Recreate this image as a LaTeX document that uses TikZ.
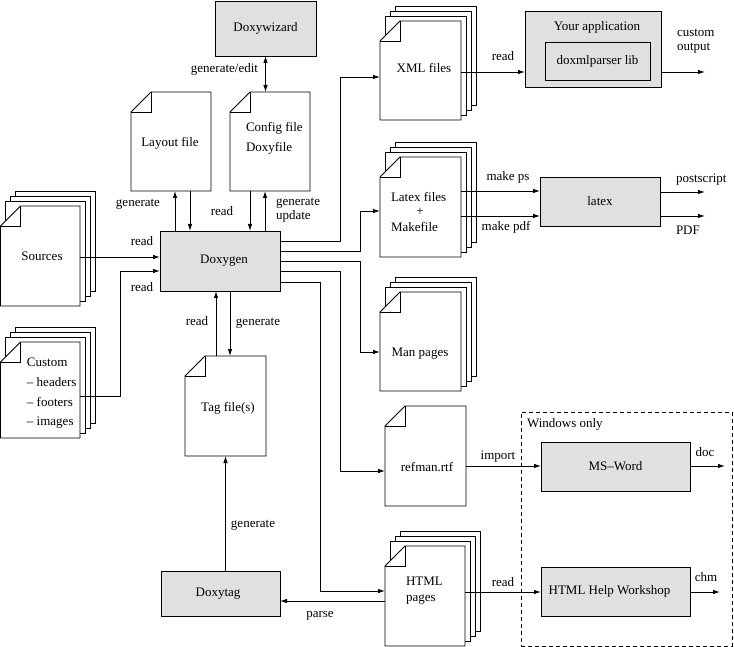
\documentclass[tikz,border=0pt]{standalone}
\usepackage{fontspec}
\setmainfont{Liberation Serif}
\usetikzlibrary{arrows.meta,fit}
\definecolor{boxgray}{RGB}{224,224,224}
\tikzset{
  every node/.style={font=\fontsize{13}{15}\selectfont, inner sep=0pt, outer sep=0pt},
  graybox/.style={draw, fill=boxgray},
  pageline/.style={draw, fill=white},
  pagearea/.style={draw=none, inner sep=0pt, outer sep=0pt},
  lbl/.style={anchor=base},
  lblw/.style={anchor=base west},
  winbox/.style={draw, dash pattern=on 4pt off 3pt},
  arr/.style={-{Latex[length=7pt,width=4.5pt]}},
  arrtwo/.style={{Latex[length=7pt,width=4.5pt]}-{Latex[length=7pt,width=4.5pt]}},
}
% name, x0, y0, x1, y1 : a page with a folded top-left corner
\newcommand\docpage[5]{%
  \draw[pageline] (#2+20,#3) -- (#4,#3) -- (#4,#5) -- (#2,#5) -- (#2,#3+20) -- cycle;
  \draw (#2,#3+20) -- (#2+20,#3+20) -- (#2+20,#3);
  \coordinate (#1-nw) at (#2,#3);
  \coordinate (#1-se) at (#4,#5);
  \node[pagearea, fit=(#1-nw)(#1-se)] (#1) {};
}
\newcommand\docstack[5]{%
  \foreach \d in {15,10,5}{\draw[pageline] (#2+\d,#3-\d) rectangle (#4+\d,#5-\d);}
  \docpage{#1}{#2}{#3}{#4}{#5}%
}
\begin{document}
\begin{tikzpicture}[x=1pt,y=-1pt,line width=0.9pt]
\useasboundingbox (0,0) rectangle (734,647);

% ---- grey boxes
\node[graybox, minimum width=101pt, minimum height=55pt] (doxywizard) at (265.5,28.5) {Doxywizard};
\node[graybox, minimum width=120pt, minimum height=60pt] (doxygen) at (220,261) {\hspace*{8pt}Doxygen};
\node[graybox, minimum width=119pt, minimum height=45pt] (doxytag) at (220.5,593.5) {Doxytag\hspace*{5pt}};
\node[graybox, minimum width=136pt, minimum height=76pt] (yourapp) at (593,49) {};
\node[graybox, minimum width=105pt, minimum height=38pt] (parser) at (597.5,61) {doxmlparser lib};
\node[lbl] (yourappT) at (597,31) {Your application};
\node[graybox, minimum width=120pt, minimum height=49pt] (latex) at (600,201.5) {latex};
\node[winbox, minimum width=211pt, minimum height=234pt] (win) at (626.5,529) {};
\node[lblw] (winT) at (527,427) {Windows only};
\node[graybox, minimum width=149pt, minimum height=49pt] (msword) at (615.5,466.5) {MS--Word};
\node[graybox, minimum width=149pt, minimum height=49pt] (hhw) at (615.5,591.5) {HTML Help Workshop\hspace*{12pt}};

% ---- pages
\docpage{layout}{131}{92}{211}{191}
\node[lbl] (layoutT) at (170,146.5) {Layout file};
\docpage{config}{230}{92}{310}{191}
\node[lblw] (configT1) at (246,131.5) {Config file};
\node[lblw] (configT2) at (246,151.5) {Doxyfile};
\docstack{sources}{0.5}{206}{80}{306}
\node[lbl] (sourcesT) at (42,261) {Sources};
\docstack{custom}{0.5}{342}{80}{438}
\node[lblw] (customT1) at (27,366) {Custom};
\node[lblw] (customT2) at (27,386) {-- headers};
\node[lblw] (customT3) at (27,406) {-- footers};
\node[lblw] (customT4) at (27,425.5) {-- images};
\docpage{tag}{185}{356}{266}{456}
\node[lbl] (tagT) at (228,411) {Tag file(s)};
\docstack{xml}{380}{21}{461}{120}
\node[lbl] (xmlT) at (424,72.5) {XML files};
\docstack{latexf}{380}{157}{461}{257}
\node[lblw] (latexfT1) at (391,201.5) {Latex files};
\node[lbl] (latexfT2) at (420,216) {+};
\node[lblw] (latexfT3) at (391,231.5) {Makefile};
\docstack{man}{380}{292}{461}{391}
\node[lbl] (manT) at (420,356) {Man pages};
\docpage{refman}{385}{406}{466}{506}
\node[lbl] (refmanT) at (427,471) {refman.rtf};
\docstack{html}{385}{546}{465}{646}
\node[lblw] (htmlT1) at (406,585.5) {HTML};
\node[lblw] (htmlT2) at (406,601.5) {pages};

% ---- free ends
\coordinate (o1) at (705,72);
\coordinate (o2) at (705,192);
\coordinate (o3) at (705,216);
\coordinate (o4) at (725,466);
\coordinate (o5) at (720,592);

% ---- connectors
\draw[arrtwo] (doxywizard.south) -- (doxywizard.south |- config.north);
\draw[arr] ([xshift=-45pt]doxygen.north) coordinate (a1) -- (a1 |- layout.south);
\draw[arr] ([xshift=19pt]layout.south) coordinate (a2) -- (a2 |- doxygen.north);
\draw[arr] ([xshift=-20pt]config.south) coordinate (a3) -- (a3 |- doxygen.north);
\draw[arr] ([xshift=45pt]doxygen.north) coordinate (a4) -- (a4 |- config.south);
\draw[arr] ([yshift=-1pt]sources.east) coordinate (a5) -- (a5 -| doxygen.west);
\draw[arr] ([yshift=-6pt]custom.east) -- ++(40,0) |- ([yshift=-10pt]doxygen.west);
\draw[arr] ([yshift=20pt]doxygen.east) -- ++(60,0) |- ([yshift=-6.5pt]xml.west);
\draw[arr] ([yshift=10pt]doxygen.east) -- ++(80,0) |- ([yshift=-4pt]latexf.west);
\draw[arr] (doxygen.east) -- ++(80,0) |- ([yshift=-10.5pt]man.west);
\draw[arr] ([yshift=-10pt]doxygen.east) -- ++(60,0) |- ([yshift=-15pt]refman.west);
\draw[arr] ([yshift=-21pt]doxygen.east) -- ++(40,0) |- ([yshift=5pt]html.west);
\draw[arr] ([xshift=-9.5pt]tag.north) coordinate (a6) -- (a6 |- doxygen.south);
\draw[arr] ([xshift=10pt]doxygen.south) coordinate (a7) -- (a7 |- tag.north);
\draw[arr] ([xshift=5pt]doxytag.north) coordinate (a8) -- (a8 |- tag.south);
\draw[arr] ([yshift=-5pt]html.west) coordinate (a9) -- (a9 -| doxytag.east);
\draw[arr] ([yshift=-1.5pt]xml.east) coordinate (b1) -- (b1 -| yourapp.west);
\draw[arr] (yourapp.east |- o1) -- (o1);
\draw[arr] ([yshift=16pt]latexf.east) coordinate (b2) -- (b2 -| latex.west);
\draw[arr] ([yshift=-9pt]latexf.east) coordinate (b3) -- (b3 -| latex.west);
\draw[arr] (latex.east |- o2) -- (o2);
\draw[arr] (latex.east |- o3) -- (o3);
\draw[arr] ([yshift=-10pt]refman.east) coordinate (b4) -- (b4 -| msword.west);
\draw[arr] (msword.east |- o4) -- (o4);
\draw[arr] ([yshift=4pt]html.east) coordinate (b5) -- (b5 -| hhw.west);
\draw[arr] (hhw.east |- o5) -- (o5);

% ---- labels
\node[lbl] (l1) at (224.5,72.5) {generate/edit};
\node[lbl] (l2) at (138,207) {generate};
\node[lbl] (l3) at (222,216) {read};
\node[lblw] (l4) at (276,206) {generate};
\node[lblw] (l5) at (276,220) {update};
\node[lbl] (l6) at (142,246) {read};
\node[lbl] (l7) at (142,291) {read};
\node[lbl] (l8) at (197,326) {read};
\node[lbl] (l9) at (258,326) {generate};
\node[lbl] (l10) at (253,527) {generate};
\node[lbl] (l11) at (320,617) {parse};
\node[lbl] (l12) at (503,61) {read};
\node[lblw] (l13) at (677,37) {custom};
\node[lblw] (l14) at (677,51) {output};
\node[lbl] (l15) at (508,181) {make ps};
\node[lbl] (l16) at (506,231) {make pdf};
\node[lblw] (l17) at (676,183) {postscript};
\node[lblw] (l18) at (676,235) {PDF};
\node[lbl] (l19) at (498,459) {import};
\node[lbl] (l20) at (705,456) {doc};
\node[lbl] (l21) at (503,586) {read};
\node[lbl] (l22) at (706,581) {chm};
\end{tikzpicture}
\end{document}
